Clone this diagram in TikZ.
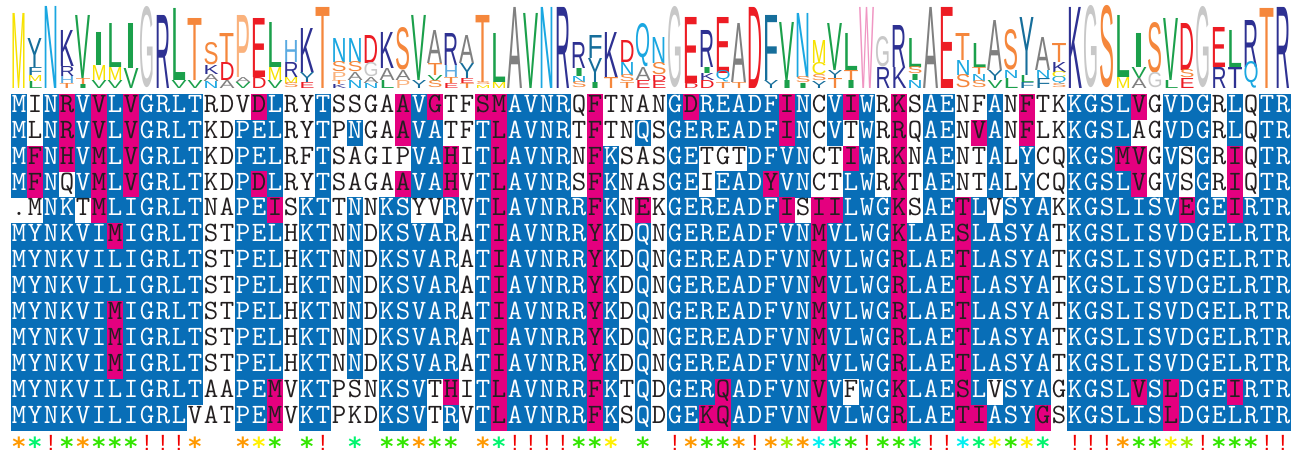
\documentclass[tikz,border=0pt]{standalone}
\usepackage{fontspec}
\usepackage{graphicx}
\newfontfamily\logofont{Liberation Sans}
\newfontfamily\starfontfam{DejaVu Sans}
\newfontfamily\exclfontfam{Liberation Sans}
\definecolor{seqblue}{RGB}{8,110,183}
\definecolor{seqmag}{RGB}{228,0,127}
\definecolor{seqink}{RGB}{35,31,32}
\definecolor{lY}{RGB}{247,226,0}
\definecolor{lT}{RGB}{22,110,155}
\definecolor{lC}{RGB}{26,167,225}
\definecolor{lN}{RGB}{46,49,146}
\definecolor{lG}{RGB}{27,160,75}
\definecolor{lLG}{RGB}{200,200,200}
\definecolor{lA}{RGB}{128,128,128}
\definecolor{lO}{RGB}{245,135,60}
\definecolor{lP}{RGB}{250,178,125}
\definecolor{lR}{RGB}{237,28,36}
\definecolor{lH}{RGB}{90,170,225}
\definecolor{lW}{RGB}{240,150,195}
\definecolor{symo}{RGB}{255,153,0}
\definecolor{symy}{RGB}{255,240,0}
\definecolor{symg}{RGB}{51,230,0}
\definecolor{syml}{RGB}{153,240,0}
\definecolor{symm}{RGB}{0,245,110}
\definecolor{symc}{RGB}{0,240,240}
\definecolor{symr}{RGB}{240,0,0}
\newcommand\seqfont{\ttfamily\fontsize{28}{30}\selectfont}
\newcommand\starfont{\starfontfam\bfseries\fontsize{25}{25}\selectfont}
\newcommand\exclfont{\exclfontfam\fontsize{22}{22}\selectfont}
\newcount\seqc
\newcount\seqr
\tikzset{
  seqtxt/.style={font=\seqfont, inner sep=0pt, outer sep=0pt, anchor=base},
  lgl/.style={anchor=south west, inner sep=0pt, outer sep=0pt},
  star/.style={font=\starfont, inner sep=0pt, outer sep=0pt, anchor=north},
  excl/.style={font=\exclfont, inner sep=0pt, outer sep=0pt, anchor=north, text=symr},
}
\newcommand\cellat[2]{%
  \edef\cx{\the\numexpr 11+16*(\seqc-1)\relax}%
  \pgfmathsetmacro\cy{94+25.9*(\the\seqr-1)}%
  \if#2B\fill[seqblue] (\cx-0.25,\cy-0.25) rectangle ++(16.5,26.4);\fi
  \if#2M\fill[seqmag] (\cx-0.25,\cy-0.25) rectangle ++(16.5,26.4);\fi
  \if#2B\def\tc{white}\else\def\tc{seqink}\fi
  \node[seqtxt,text=\tc] (s\the\seqr-\the\seqc) at (\cx+8,\cy+18.3) {#1};%
}
\def\rowdata#1#2#3{\seqr=#1\relax\seqc=0\relax\rowloop#2\relax#3\relax}
\def\rowloop#1#2\relax#3#4\relax{%
  \advance\seqc by 1\relax
  \cellat{#1}{#3}%
  \def\restA{#2}%
  \ifx\restA\empty\else\rowloop#2\relax#4\relax\fi}
\newcommand\symat[1]{%
  \edef\cx{\the\numexpr 11+16*(\seqc-1)+8\relax}%
  \if#1-\else\if#1r\node[excl] (y\the\seqc) at (\cx,435.5) {!};\else\node[star,text=sym#1] (y\the\seqc) at (\cx,437) {*};\fi\fi}
\def\symrow#1{\seqc=0\relax\symloop#1\relax}
\def\symloop#1#2\relax{%
  \advance\seqc by 1\relax
  \symat{#1}%
  \def\restA{#2}%
  \ifx\restA\empty\else\symloop#2\relax\fi}
\newcommand\lgt[5]{%
  \node[lgl,text=#3] (lg#1#2#4) at ({11+16*(#1-1)+0.5},#5) {\resizebox{15pt}{\dimexpr #5pt-#4pt\relax}{\logofont #2}};}
\begin{document}
\begin{tikzpicture}[x=1pt,y=-1pt]
\useasboundingbox (0,0) rectangle (1296,453);
\fill[white] (0,0) rectangle (1296,453);
% ---------- sequence logo ----------
\lgt{1}{M}{lY}{13}{88}
\lgt{2}{Y}{lT}{38}{67}\lgt{2}{F}{lT}{67}{75}\lgt{2}{M}{lY}{75}{81}\lgt{2}{L}{lG}{81}{88}
\lgt{3}{N}{lC}{6}{88}
\lgt{4}{K}{lN}{30}{66}\lgt{4}{R}{lN}{66}{76}\lgt{4}{H}{lH}{76}{83}\lgt{4}{T}{lO}{83}{88}
\lgt{5}{V}{lG}{15}{78}\lgt{5}{T}{lO}{78}{84}\lgt{5}{I}{lG}{84}{88}
\lgt{6}{I}{lG}{32}{65}\lgt{6}{M}{lY}{65}{80}\lgt{6}{V}{lG}{80}{88}
\lgt{7}{L}{lG}{23}{67}\lgt{7}{M}{lY}{67}{80}\lgt{7}{V}{lG}{80}{88}
\lgt{8}{I}{lG}{23}{68}\lgt{8}{V}{lG}{68}{88}
\lgt{9}{G}{lLG}{8}{88}
\lgt{10}{R}{lN}{15}{88}
\lgt{11}{L}{lG}{8}{80}\lgt{11}{V}{lG}{80}{88}
\lgt{12}{T}{lO}{18}{80}\lgt{12}{V}{lG}{80}{88}
\lgt{13}{S}{lO}{43}{65}\lgt{13}{K}{lN}{65}{74}\lgt{13}{A}{lA}{74}{81}\lgt{13}{N}{lC}{81}{88}
\lgt{14}{T}{lO}{33}{62}\lgt{14}{D}{lR}{62}{80}\lgt{14}{A}{lA}{80}{88}
\lgt{15}{P}{lP}{15}{77}\lgt{15}{A}{lA}{77}{82}\lgt{15}{V}{lG}{82}{88}
\lgt{16}{E}{lR}{18}{77}\lgt{16}{D}{lR}{77}{88}
\lgt{17}{L}{lG}{22}{67}\lgt{17}{M}{lY}{67}{80}\lgt{17}{V}{lG}{80}{88}
\lgt{18}{H}{lH}{40}{62}\lgt{18}{R}{lN}{62}{77}\lgt{18}{M}{lY}{77}{83}\lgt{18}{S}{lO}{83}{88}
\lgt{19}{K}{lN}{28}{72}\lgt{19}{Y}{lT}{72}{82}\lgt{19}{E}{lR}{82}{88}
\lgt{20}{T}{lO}{7}{88}
\lgt{21}{N}{lC}{38}{62}\lgt{21}{S}{lO}{62}{72}\lgt{21}{P}{lP}{72}{80}\lgt{21}{T}{lO}{80}{84}\lgt{21}{K}{lN}{84}{88}
\lgt{22}{N}{lC}{38}{62}\lgt{22}{S}{lO}{62}{72}\lgt{22}{A}{lA}{72}{80}\lgt{22}{N}{lC}{80}{88}
\lgt{23}{D}{lR}{35}{63}\lgt{23}{G}{lLG}{63}{77}\lgt{23}{A}{lA}{77}{83}\lgt{23}{N}{lC}{83}{88}
\lgt{24}{K}{lN}{32}{68}\lgt{24}{A}{lA}{68}{80}\lgt{24}{L}{lG}{80}{88}
\lgt{25}{S}{lO}{28}{70}\lgt{25}{A}{lA}{70}{80}\lgt{25}{P}{lP}{80}{88}
\lgt{26}{V}{lG}{15}{80}\lgt{26}{Y}{lT}{80}{88}
\lgt{27}{A}{lA}{30}{63}\lgt{27}{T}{lO}{63}{75}\lgt{27}{V}{lG}{75}{81}\lgt{27}{S}{lO}{81}{88}
\lgt{28}{R}{lN}{33}{65}\lgt{28}{H}{lH}{65}{77}\lgt{28}{T}{lO}{77}{83}\lgt{28}{E}{lR}{83}{88}
\lgt{29}{A}{lA}{35}{63}\lgt{29}{Y}{lT}{63}{78}\lgt{29}{E}{lR}{78}{83}\lgt{29}{T}{lO}{83}{88}
\lgt{30}{T}{lO}{15}{82}\lgt{30}{S}{lO}{82}{85}\lgt{30}{M}{lY}{85}{88}
\lgt{31}{L}{lG}{33}{82}\lgt{31}{M}{lY}{82}{88}
\lgt{32}{A}{lA}{7}{88}
\lgt{33}{V}{lG}{13}{88}
\lgt{34}{N}{lC}{7}{88}
\lgt{35}{R}{lN}{7}{88}
\lgt{36}{R}{lN}{42}{68}\lgt{36}{I}{lG}{68}{76}\lgt{36}{N}{lC}{76}{82}\lgt{36}{S}{lO}{82}{88}
\lgt{37}{F}{lT}{35}{58}\lgt{37}{Y}{lT}{58}{82}\lgt{37}{I}{lG}{82}{88}
\lgt{38}{K}{lN}{32}{77}\lgt{38}{T}{lO}{77}{88}
\lgt{39}{D}{lR}{40}{62}\lgt{39}{N}{lC}{62}{75}\lgt{39}{S}{lO}{75}{82}\lgt{39}{T}{lO}{82}{88}
\lgt{40}{Q}{lC}{33}{67}\lgt{40}{A}{lA}{67}{80}\lgt{40}{E}{lR}{80}{88}
\lgt{41}{N}{lC}{37}{63}\lgt{41}{S}{lO}{63}{75}\lgt{41}{D}{lR}{75}{81}\lgt{41}{E}{lR}{81}{88}
\lgt{42}{G}{lLG}{8}{88}
\lgt{43}{E}{lR}{17}{83}\lgt{43}{D}{lR}{83}{88}
\lgt{44}{R}{lN}{30}{67}\lgt{44}{I}{lG}{67}{73}\lgt{44}{K}{lN}{73}{80}\lgt{44}{D}{lR}{80}{88}
\lgt{45}{E}{lR}{17}{73}\lgt{45}{Q}{lC}{73}{82}\lgt{45}{T}{lO}{82}{88}
\lgt{46}{A}{lA}{23}{82}\lgt{46}{T}{lO}{82}{88}
\lgt{47}{D}{lR}{7}{88}
\lgt{48}{F}{lT}{15}{80}\lgt{48}{Y}{lT}{80}{88}
\lgt{49}{V}{lG}{22}{80}\lgt{49}{I}{lG}{80}{88}
\lgt{50}{N}{lC}{13}{77}\lgt{50}{S}{lO}{77}{83}\lgt{50}{I}{lG}{83}{88}
\lgt{51}{M}{lY}{40}{63}\lgt{51}{C}{lY}{63}{75}\lgt{51}{S}{lO}{75}{81}\lgt{51}{Y}{lT}{81}{88}
\lgt{52}{V}{lG}{23}{70}\lgt{52}{Y}{lT}{70}{78}\lgt{52}{T}{lO}{78}{88}
\lgt{53}{L}{lG}{33}{70}\lgt{53}{T}{lO}{70}{80}\lgt{53}{I}{lG}{80}{88}
\lgt{54}{W}{lW}{7}{88}
\lgt{55}{G}{lLG}{37}{67}\lgt{55}{R}{lN}{67}{88}
\lgt{56}{R}{lN}{25}{67}\lgt{56}{K}{lN}{67}{88}
\lgt{57}{L}{lG}{38}{67}\lgt{57}{S}{lO}{67}{74}\lgt{57}{I}{lG}{74}{80}\lgt{57}{N}{lC}{80}{88}
\lgt{58}{A}{lA}{7}{88}
\lgt{59}{E}{lR}{7}{88}
\lgt{60}{T}{lO}{33}{60}\lgt{60}{N}{lC}{60}{75}\lgt{60}{S}{lO}{75}{88}
\lgt{61}{L}{lG}{43}{67}\lgt{61}{T}{lO}{67}{74}\lgt{61}{N}{lC}{74}{81}\lgt{61}{S}{lO}{81}{88}
\lgt{62}{A}{lA}{20}{70}\lgt{62}{Y}{lT}{70}{80}\lgt{62}{V}{lG}{80}{88}
\lgt{63}{S}{lO}{30}{70}\lgt{63}{N}{lC}{70}{78}\lgt{63}{L}{lG}{78}{88}
\lgt{64}{Y}{lT}{17}{75}\lgt{64}{L}{lG}{75}{82}\lgt{64}{F}{lT}{82}{88}
\lgt{65}{A}{lA}{37}{70}\lgt{65}{N}{lC}{70}{78}\lgt{65}{F}{lT}{78}{88}
\lgt{66}{T}{lO}{43}{62}\lgt{66}{K}{lN}{62}{72}\lgt{66}{C}{lY}{72}{78}\lgt{66}{Q}{lC}{78}{84}\lgt{66}{S}{lO}{84}{88}
\lgt{67}{K}{lN}{7}{88}
\lgt{68}{G}{lLG}{7}{88}
\lgt{69}{S}{lO}{7}{88}
\lgt{70}{L}{lG}{15}{77}\lgt{70}{M}{lY}{77}{88}
\lgt{71}{I}{lG}{33}{67}\lgt{71}{V}{lG}{67}{78}\lgt{71}{A}{lA}{78}{88}
\lgt{72}{S}{lO}{23}{73}\lgt{72}{G}{lLG}{73}{88}
\lgt{73}{V}{lG}{18}{80}\lgt{73}{L}{lG}{80}{88}
\lgt{74}{D}{lR}{23}{70}\lgt{74}{S}{lO}{70}{78}\lgt{74}{E}{lR}{78}{88}
\lgt{75}{G}{lLG}{8}{88}
\lgt{76}{E}{lR}{27}{67}\lgt{76}{R}{lN}{67}{88}
\lgt{77}{L}{lG}{30}{67}\lgt{77}{T}{lN}{67}{88}
\lgt{78}{R}{lN}{20}{67}\lgt{78}{Q}{lC}{67}{88}
\lgt{79}{T}{lO}{8}{88}
\lgt{80}{R}{lN}{7}{88}
% ---------- alignment ----------
\rowdata{1}{MINRVVLVGRLTRDVDLRYTSSGAAVGTFSMAVNRQFTNANGDREADFINCVIWRKSAENFANFTKKGSLVGVDGRLQTR}{BWBMBMBMBBBBWWWMBWWBWWWWMBMWWMMBBBBWMWWWWBMBBBBBMBWBMBWMWBBWWBWMWWBBBBMWBBBWBWBB}
\rowdata{2}{MLNRVVLVGRLTKDPELRYTPNGAAVATFTLAVNRTFTNQSGEREADFINCVTWRRQAENVANFLKKGSLAGVDGRLQTR}{BWBMBMBMBBBBWWBBBWWBWBWWMBBWWBMBBBBWMWWBWBBBBBBBMBWBWBWMWBBWMBWMWWBBBBWWBBBWBWBB}
\rowdata{3}{MFNHVMLVGRLTKDPELRFTSAGIPVAHITLAVNRNFKSASGETGTDFVNCTIWRKNAENTALYCQKGSMVGVSGRIQTR}{BMBMBMBMBBBBWWBBBWWBWWWWWBBMWBMBBBBWMBWWWBBWWWBBBBWWMBWMWBBWWBWBWWBBBMMWBWBWMWBB}
\rowdata{4}{MFNQVMLVGRLTKDPDLRYTSAGAAVAHVTLAVNRSFKNASGEIEADYVNCTLWRKTAENTALYCQKGSLVGVSGRIQTR}{BMBWBMBMBBBBWWBMBWWBWWWWMBBMWBMBBBBWMBWWWBBWBBBMBBWWBBWMWBBWWBWBWWBBBBMWBWBWMWBB}
\rowdata{5}{.MNKTMLIGRLTNAPEISKTTNNKSYVRVTLAVNRRFKNEKGEREADFISIILWGKSAETLVSYAKKGSLISVEGEIRTR}{WWBBWMBBBBBBWWBBMWBBWBWBBWWBWBMBBBBBMBWMWBBBBBBBMWMMBBBMWBBMBWBBBWBBBBBBBMBBMBBB}
\rowdata{6}{MYNKVIMIGRLTSTPELHKTNNDKSVARATIAVNRRYKDQNGEREADFVNMVLWGKLAESLASYATKGSLISVDGELRTR}{BBBBBBMBBBBBWWBBBWBBWBWBBBBBWBMBBBBBMBWBWBBBBBBBBBMBBBBMBBBMBBBBBWBBBBBBBBBBBBBB}
\rowdata{7}{MYNKVILIGRLTSTPELHKTNNDKSVARATIAVNRRYKDQNGEREADFVNMVLWGRLAETLASYATKGSLISVDGELRTR}{BBBBBBBBBBBBWWBBBWBBWBWBBBBBWBMBBBBBMBWBWBBBBBBBBBMBBBBMBBBMBBBBBWBBBBBBBBBBBBBB}
\rowdata{8}{MYNKVILIGRLTSTPELHKTNNDKSVARATIAVNRRYKDQNGEREADFVNMVLWGRLAETLASYATKGSLISVDGELRTR}{BBBBBBBBBBBBWWBBBWBBWBWBBBBBWBMBBBBBMBWBWBBBBBBBBBMBBBBMBBBMBBBBBWBBBBBBBBBBBBBB}
\rowdata{9}{MYNKVIMIGRLTSTPELHKTNNDKSVARATIAVNRRYKDQNGEREADFVNMVLWGRLAETLASYATKGSLISVDGELRTR}{BBBBBBMBBBBBWWBBBWBBWBWBBBBBWBMBBBBBMBWBWBBBBBBBBBMBBBBMBBBMBBBBBWBBBBBBBBBBBBBB}
\rowdata{10}{MYNKVIMIGRLTSTPELHKTNNDKSVARATIAVNRRYKDQNGEREADFVNMVLWGRLAETLASYATKGSLISVDGELRTR}{BBBBBBMBBBBBWWBBBWBBWBWBBBBBWBMBBBBBMBWBWBBBBBBBBBMBBBBMBBBMBBBBBWBBBBBBBBBBBBBB}
\rowdata{11}{MYNKVIMIGRLTSTPELHKTNNDKSVARATIAVNRRYKDQNGEREADFVNMVLWGRLAETLASYATKGSLISVDGELRTR}{BBBBBBMBBBBBWWBBBWBBWBWBBBBBWBMBBBBBMBWBWBBBBBBBBBMBBBBMBBBMBBBBBWBBBBBBBBBBBBBB}
\rowdata{12}{MYNKVILIGRLTAAPEMVKTPSNKSVTHITLAVNRRFKTQDGERQADFVNVVFWGKLAESLVSYAGKGSLVSLDGEIRTR}{BBBBBBBBBBBBWWBBMWBBWWWBBBWMWBMBBBBBMBWBWBBBMBBBBBMBWBBMBBBMBWBBBWBBBBMBMBBBMBBB}
\rowdata{13}{MYNKVILIGRLVATPEMVKTPKDKSVTRVTLAVNRRFKSQDGEKQADFVNVVLWGRLAETIASYGSKGSLISLDGELRTR}{BBBBBBBBBBBWWWBBMWBBWWWBBBWBWBMBBBBBMBWBWBBMMBBBBBMBBBBMBBBMMBBBMWBBBBBBMBBBBBBB}
% ---------- conservation symbols ----------
\symrow{omrgogggrrro--oyg-gr-m-ggogg-omrrrrggy-g-roggorolocmgrggmrrcmygym-rrroggylrgggrr}
\end{tikzpicture}
\end{document}
